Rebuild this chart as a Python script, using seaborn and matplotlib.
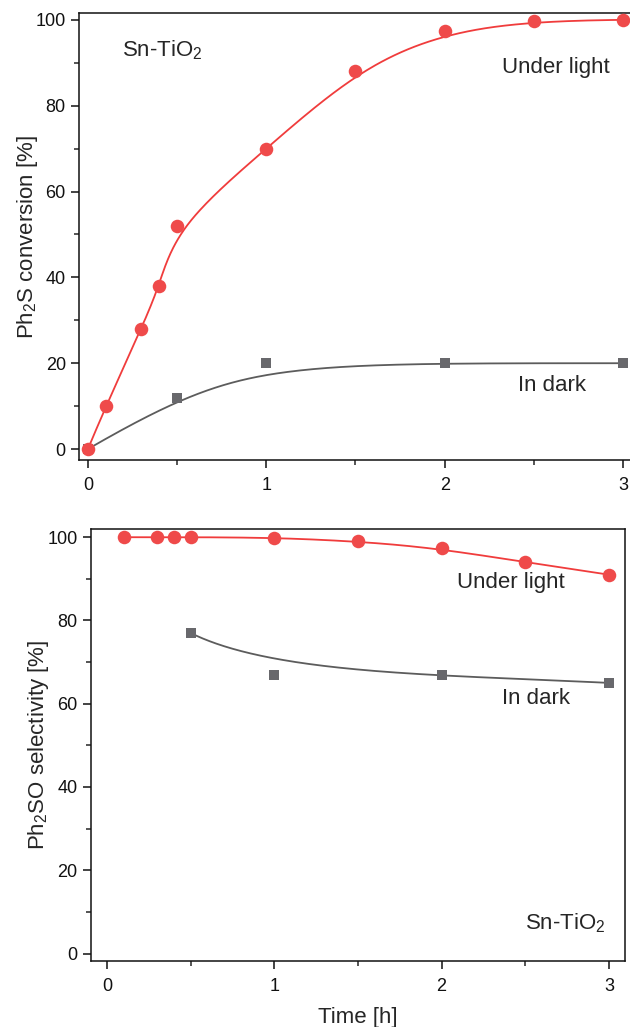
import numpy as np
import matplotlib
matplotlib.use('Agg')
import matplotlib.pyplot as plt
import seaborn as sns
from matplotlib.ticker import MultipleLocator

# ── Data ────────────────────────────────────────────────────────────────────
conv_light_t = [0, 0.1, 0.3, 0.4, 0.5, 1.0, 1.5, 2.0, 2.5, 3.0]
conv_light_y = [0, 10, 28, 38, 52, 70, 88, 97.5, 99.8, 100]
conv_dark_t = [0, 0.5, 1.0, 2.0, 3.0]
conv_dark_y = [0, 12, 20, 20, 20]

sel_light_t = [0.1, 0.3, 0.4, 0.5, 1.0, 1.5, 2.0, 2.5, 3.0]
sel_light_y = [100, 100, 100, 100, 99.9, 99, 97.3, 94, 91]
sel_dark_t = [0.5, 1.0, 2.0, 3.0]
sel_dark_y = [77, 67, 67, 65]

RED = '#EF4A4A'
RED_LINE = '#F03C3C'
GRAY = '#68686C'
GRAY_LINE = '#5C5C5C'


def bspline(x, y, num=300, k=3):
    """Clamped B-spline using the data points as control points (Origin style)."""
    ctrl = np.column_stack([x, y]).astype(float)
    m = len(ctrl)
    k = min(k, m - 1)
    t = np.concatenate([np.zeros(k), np.linspace(0, 1, m - k + 1), np.ones(k)])
    u = np.linspace(0, 1, num)
    N = np.zeros((num, len(t) - 1))
    for i in range(len(t) - 1):
        N[:, i] = (u >= t[i]) & (u < t[i + 1])
    N[-1, :] = 0
    N[-1, m - 1] = 1
    for d in range(1, k + 1):
        Nn = np.zeros((num, len(t) - 1 - d))
        for i in range(len(t) - 1 - d):
            a = t[i + d] - t[i]
            b = t[i + d + 1] - t[i + 1]
            term = np.zeros(num)
            if a > 0:
                term += (u - t[i]) / a * N[:, i]
            if b > 0:
                term += (t[i + d + 1] - u) / b * N[:, i + 1]
            Nn[:, i] = term
        N = Nn
    pts = N @ ctrl
    return pts[:, 0], pts[:, 1]


sns.set_style('ticks')
plt.rcParams['font.family'] = ['Liberation Sans', 'DejaVu Sans']
plt.rcParams['mathtext.default'] = 'regular'
plt.rcParams['axes.linewidth'] = 1.1

W, H = 630, 1027
fig = plt.figure(figsize=(W / 100, H / 100), dpi=100)
ax1 = fig.add_axes([79 / W, 1 - 460 / H, (636 - 79) / W, (460 - 13) / H])
ax2 = fig.add_axes([90.7 / W, 1 - 961 / H, (625 - 90.7) / W, (961 - 529.3) / H])


def draw(ax, t, y, col, lcol, marker, size):
    sx, sy = bspline(t, y)
    sns.lineplot(x=sx, y=sy, ax=ax, color=lcol, lw=1.3, sort=False, estimator=None)
    sns.scatterplot(x=t, y=y, ax=ax, color=col, marker=marker, s=size,
                    edgecolor=col, linewidth=0, zorder=5)


# ── Top: conversion ─────────────────────────────────────────────────────────
draw(ax1, conv_dark_t, conv_dark_y, GRAY, GRAY_LINE, 's', 60)
draw(ax1, conv_light_t, conv_light_y, RED, RED_LINE, 'o', 95)
ax1.set_xlim(-0.05, 3.073)
ax1.set_ylim(-2.55, 101.6)
ax1.set_ylabel('Ph$_2$S conversion [%]', fontsize=16, labelpad=-3)
ax1.text(0.19, 93, 'Sn-TiO$_2$', fontsize=16, va='center', ha='left')
ax1.text(2.32, 89, 'Under light', fontsize=16, va='center', ha='left')
ax1.text(2.41, 14.9, 'In dark', fontsize=16, va='center', ha='left')

# ── Bottom: selectivity ─────────────────────────────────────────────────────
draw(ax2, sel_dark_t, sel_dark_y, GRAY, GRAY_LINE, 's', 60)
draw(ax2, sel_light_t, sel_light_y, RED, RED_LINE, 'o', 95)
ax2.set_xlim(-0.097, 3.096)
ax2.set_ylim(-1.8, 101.9)
ax2.set_ylabel('Ph$_2$SO selectivity [%]', fontsize=16, labelpad=-3)
ax2.set_xlabel('Time [h]', fontsize=16, labelpad=9)
ax2.text(2.09, 89.1, 'Under light', fontsize=16, va='center', ha='left')
ax2.text(2.36, 61.2, 'In dark', fontsize=16, va='center', ha='left')
ax2.text(2.50, 7.4, 'Sn-TiO$_2$', fontsize=16, va='center', ha='left')

for ax in (ax1, ax2):
    ax.xaxis.set_major_locator(MultipleLocator(1))
    ax.xaxis.set_minor_locator(MultipleLocator(0.5))
    ax.yaxis.set_major_locator(MultipleLocator(20))
    ax.yaxis.set_minor_locator(MultipleLocator(10))
    ax.tick_params(which='major', direction='out', length=6, width=1.1,
                   labelsize=13, colors='#111111')
    ax.tick_params(which='minor', direction='out', length=3.5, width=1.1)
    ax.tick_params(axis='x', which='major', pad=6)
    for s in ax.spines.values():
        s.set_visible(True)
        s.set_color('#111111')

fig.savefig('out.png', dpi=100)
plt.close(fig)
